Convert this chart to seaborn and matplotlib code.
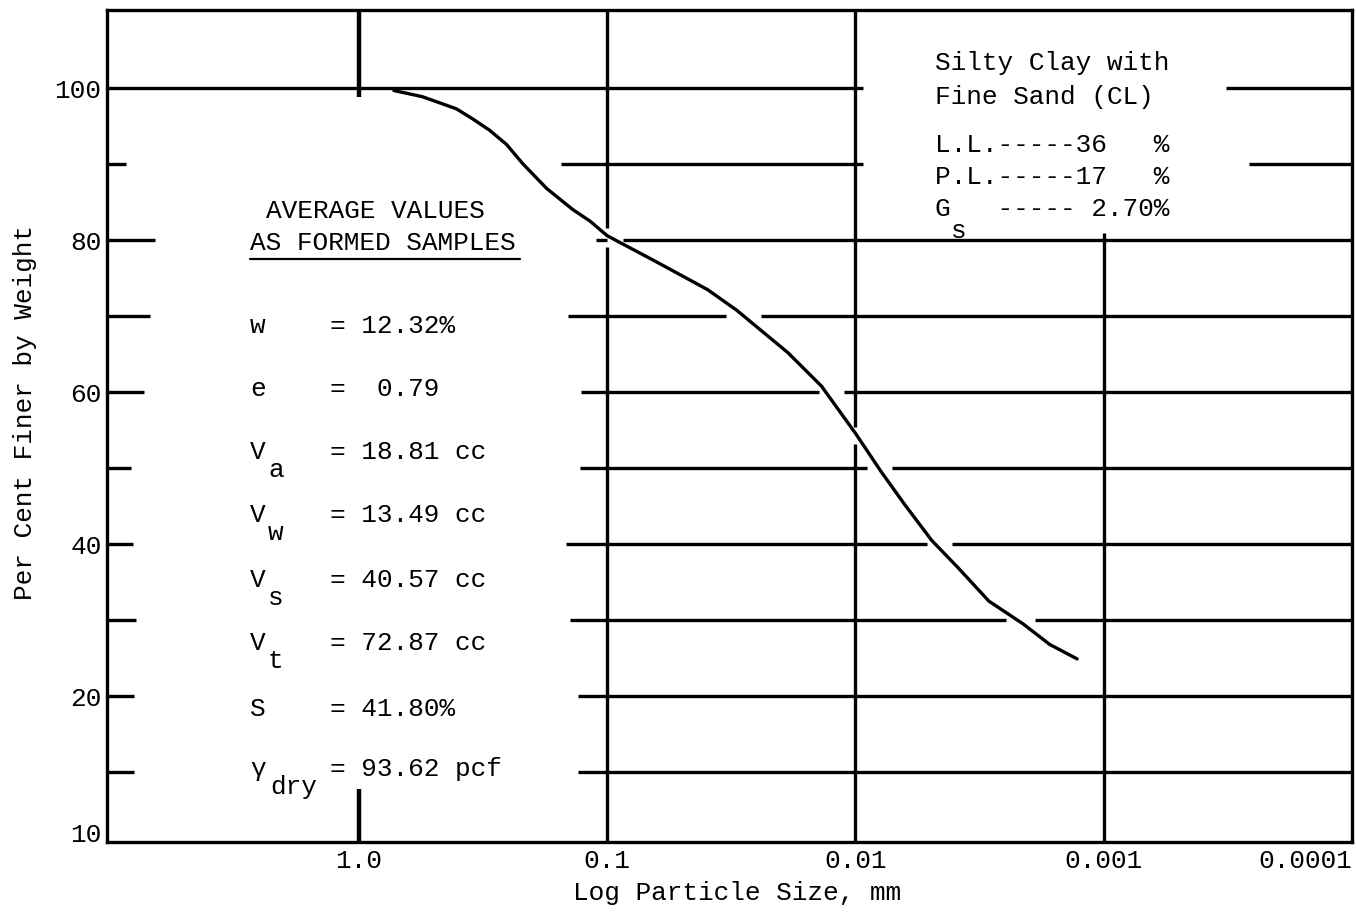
import matplotlib
matplotlib.use("Agg")
import matplotlib.pyplot as plt
from matplotlib.lines import Line2D
from matplotlib.ticker import NullLocator
import pandas as pd
import seaborn as sns

# Grain-size distribution curve (particle size in mm, per cent finer by weight)
particle_size_mm = [0.722, 0.556, 0.474, 0.405, 0.349, 0.298, 0.254, 0.219, 0.175,
                    0.137, 0.117, 0.100, 0.0637, 0.0394, 0.0301, 0.0187,
                    0.0137, 0.0100, 0.0079, 0.00636, 0.00493, 0.00386, 0.00290,
                    0.00211, 0.00165, 0.00128]
percent_finer = [99.7, 98.9, 98.1, 97.3, 96.0, 94.5, 92.6, 90.1, 86.8,
                 84.0, 82.5, 80.6, 77.2, 73.5, 70.8, 65.2,
                 60.8, 54.6, 49.6, 45.3, 40.5, 36.9, 32.5,
                 29.5, 26.8, 24.9]

x_tick_values = [1.0, 0.1, 0.01, 0.001, 0.0001]
x_tick_labels = ["1.0", "0.1", "0.01", "0.001", "0.0001"]
y_tick_values = [2.1, 20, 40, 60, 80, 100]
y_tick_labels = ["10", "20", "40", "60", "80", "100"]

# Average properties of the as-formed samples
prop_symbols = ["w", "e", "V", "V", "V", "V", "S", "γ"]
prop_subscripts = ["", "", "a", "w", "s", "t", "", "dry"]
prop_values = ["= 12.32%", "=  0.79", "= 18.81 cc", "= 13.49 cc",
               "= 40.57 cc", "= 72.87 cc", "= 41.80%", "= 93.62 pcf"]

# Soil classification and index properties
soil_lines = ["Silty Clay with", "Fine Sand (CL)",
              "L.L.-----36   %", "P.L.-----17   %", "G   ----- 2.70%"]

W, H = 1356, 913
FS = 18.8
LW = 2.4

sns.set_theme(style="white")
plt.rcParams["font.family"] = ["Liberation Mono", "DejaVu Sans Mono"]
plt.rcParams.update({"text.color": "black", "axes.labelcolor": "black",
                     "xtick.color": "black", "ytick.color": "black"})

fig = plt.figure(figsize=(W / 100, H / 100), dpi=100)
fig.patch.set_facecolor("white")
ax = fig.add_axes([107 / W, 1 - 842 / H, 1245 / W, 832 / H])

df = pd.DataFrame({"size": particle_size_mm, "finer": percent_finer})
sns.lineplot(data=df, x="size", y="finer", ax=ax, color="black", lw=LW,
             sort=False, estimator=None, solid_capstyle="round",
             solid_joinstyle="round")

ax.set_xscale("log")
ax.set_xlim(10.33, 1.047e-4)
ax.set_ylim(0.8, 110.3)
ax.set_xlabel("")
ax.set_ylabel("")
ax.xaxis.set_minor_locator(NullLocator())
ax.yaxis.set_minor_locator(NullLocator())
ax.set_xticks(x_tick_values)
xl = ax.set_xticklabels(x_tick_labels)
xl[-1].set_ha("right")
ax.set_yticks(y_tick_values)
ax.set_yticklabels(y_tick_labels)
ax.tick_params(axis="both", length=0, labelsize=FS)
ax.tick_params(axis="x", pad=5)
ax.tick_params(axis="y", pad=4)
for sp in ax.spines.values():
    sp.set_visible(True)
    sp.set_color("black")
    sp.set_linewidth(LW)

ybot, ytop = ax.get_ylim()
xl_edge, xr_edge = ax.get_xlim()

# Horizontal rulings at every 10 %, broken where the curve or notes pass
h_rules = {
    100: [(xl_edge, 0.00931), (0.000323, xr_edge)],
    90: [(xl_edge, 8.68), (0.153, 0.00931), (0.000261, xr_edge)],
    80: [(xl_edge, 6.63), (0.111, 0.1), (0.0863, xr_edge)],
    70: [(xl_edge, 6.95), (0.1435, 0.0333), (0.0241, xr_edge)],
    60: [(xl_edge, 7.34), (0.1273, 0.0140), (0.0111, xr_edge)],
    50: [(xl_edge, 8.27), (0.1285, 0.00898), (0.00713, xr_edge)],
    40: [(xl_edge, 8.12), (0.146, 0.00516), (0.00409, xr_edge)],
    30: [(xl_edge, 7.90), (0.141, 0.00247), (0.00189, xr_edge)],
    20: [(xl_edge, 8.05), (0.131, xr_edge)],
    10: [(xl_edge, 8.05), (0.131, xr_edge)],
}
for yv, segs in h_rules.items():
    for x0, x1 in segs:
        ax.hlines(yv, x0, x1, color="black", lw=LW, capstyle="butt")

# Vertical rulings at each decade of particle size
v_rules = {
    1.0: [(98.8, ytop), (ybot, 7.8)],
    0.1: [(ybot, 79.1), (81.6, ytop)],
    0.01: [(ybot, 53.2), (55.4, ytop)],
    0.001: [(ybot, 80.9)],
}
for xv, segs in v_rules.items():
    for y0, y1 in segs:
        ax.vlines(xv, y0, y1, color="black", lw=LW + (0.8 if xv == 1.0 else 0),
                  capstyle="butt")


def put(x, y, s, **kw):
    fig.text(x / W, 1 - y / H, s, fontsize=FS, va="center", ha="left", **kw)


# Axis titles
fig.text(737 / W, 1 - 893 / H, "Log Particle Size, mm", fontsize=FS,
         ha="center", va="center")
fig.text(25 / W, 1 - 413 / H, "Per Cent Finer by Weight", fontsize=FS,
         ha="center", va="center", rotation=90)

# Average-values block
put(266, 211, "AVERAGE VALUES")
put(250, 243, "AS FORMED SAMPLES")
fig.add_artist(Line2D([250 / W, 520 / W], [1 - 259 / H, 1 - 259 / H],
                      color="black", lw=1.6))
row_y = [326, 389, 452, 515, 580, 643, 709, 769]
for sym, sub, val, yy in zip(prop_symbols, prop_subscripts, prop_values, row_y):
    put(250, yy, sym)
    if sub:
        put(268 if len(sub) == 1 else 270, yy + 18, sub)
    put(330, yy, val)

# Soil description block
soil_y = [63, 97, 145, 177, 209]
for line, yy in zip(soil_lines, soil_y):
    put(935, yy, line)
put(951, 231, "s")

fig.savefig("out.png", dpi=100, facecolor="white")
